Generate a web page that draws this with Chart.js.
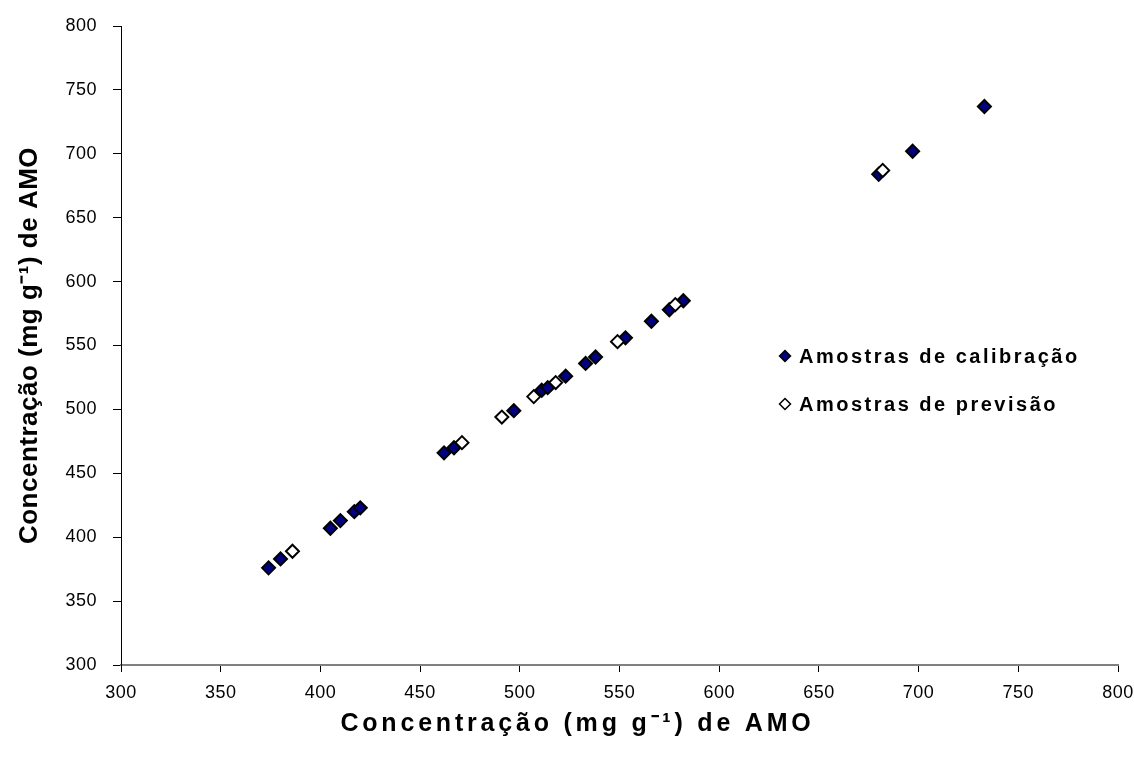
<!DOCTYPE html>
<html>
<head>
<meta charset="utf-8">
<script src="https://cdn.jsdelivr.net/npm/chart.js@4/dist/chart.umd.min.js"></script>
<style>
  html, body { margin: 0; padding: 0; background: #fff; }
  #wrap { width: 1134px; height: 767px; }
</style>
</head>
<body>
<div id="wrap"><canvas id="chart"></canvas></div>
<script>
// Calibration samples (reference vs predicted, mg g-1)
const calibX = [374, 380, 405, 410, 417, 420, 462, 467, 497, 511, 514, 523, 533, 538, 553, 566, 575, 582, 680, 697, 733];
const calibY = [376, 383, 407, 413, 420, 423, 466, 470, 499, 515, 517, 526, 536, 541, 556, 569, 578, 585, 684, 702, 737];
// Prediction samples
const predX = [386, 471, 491, 507, 518, 549, 578, 682];
const predY = [389, 474, 494, 510, 521, 553, 582, 687];

const seriesNames = ['Amostras de calibração', 'Amostras de previsão'];
const axisTitle = 'Concentração (mg g⁻¹) de AMO';
const axisMin = 300, axisMax = 800, axisStep = 50;

const FONT = '"Liberation Sans", Arial, sans-serif';

function toPoints(xs, ys) {
    return xs.map((x, i) => ({ x: x, y: ys[i] }));
}

// legend drawn inside the plot area, like the original
const insideLegend = {
    id: 'insideLegend',
    afterDraw(chart) {
        const ctx = chart.ctx;
        const area = chart.chartArea;
        const x0 = area.left + 664;
        const rows = [area.top + 330, area.top + 378];
        ctx.save();
        ctx.letterSpacing = '2.5px';
        ctx.font = 'bold 20px ' + FONT;
        ctx.textBaseline = 'middle';
        chart.data.datasets.slice().sort((a, b) => b.order - a.order).forEach((ds, i) => {
            ctx.fillStyle = ds.backgroundColor;
            ctx.strokeStyle = '#000';
            ctx.lineWidth = 1.5;
            Chart.helpers.drawPoint(ctx, { pointStyle: 'rectRot', radius: 5.5, borderWidth: 1.5 }, x0, rows[i]);
            ctx.fillStyle = '#000';
            ctx.fillText(ds.label, x0 + 14, rows[i] + 1);
        });
        ctx.restore();
    }
};

// wider spacing on the x title and tick text (Excel look)
const spacing = {
    id: 'spacing',
    beforeDraw(chart) {
        chart.ctx.letterSpacing = '0.5px';
        const sx = chart.scales.x;
        if (sx && !sx._spaced) {
            const orig = sx.drawTitle;
            sx.drawTitle = function () {
                this.ctx.save();
                this.ctx.letterSpacing = '3.8px';
                this.ctx.translate(-42, 0);   // title sits left of the plot centre in the original
                orig.call(this);
                this.ctx.restore();
            };
            sx._spaced = true;
        }
    }
};

const ctx = document.getElementById('chart').getContext('2d');
new Chart(ctx, {
    type: 'scatter',
    data: {
        datasets: [
            {
                label: seriesNames[0],
                data: toPoints(calibX, calibY),
                backgroundColor: '#000080',
                borderColor: '#000',
                borderWidth: 2,
                pointStyle: 'rectRot',
                pointRadius: 6.5,
                pointHoverRadius: 6.5,
                order: 2
            },
            {
                label: seriesNames[1],
                data: toPoints(predX, predY),
                backgroundColor: '#fff',
                borderColor: '#000',
                borderWidth: 2,
                pointStyle: 'rectRot',
                pointRadius: 6.5,
                pointHoverRadius: 6.5,
                order: 1
            }
        ]
    },
    options: {
        responsive: true,
        maintainAspectRatio: false,
        animation: false,
        layout: { padding: { top: 26, right: 16, left: 0, bottom: 0 } },
        plugins: {
            legend: { display: false },
            tooltip: { enabled: false }
        },
        scales: {
            x: {
                type: 'linear',
                min: axisMin, max: axisMax,
                ticks: { stepSize: axisStep, color: '#000', font: { family: FONT, size: 18 }, padding: 10 },
                grid: { display: true, drawOnChartArea: false, drawTicks: true, tickLength: 7, color: '#000' },
                border: { display: true, color: '#808080', width: 2 },
                title: {
                    display: true, text: axisTitle, color: '#000',
                    font: { family: FONT, size: 25, weight: 'bold' },
                    padding: { top: 0, bottom: 28 }
                },
                afterFit(scale) {
                    scale.height = 102;
                    scale.paddingLeft = 0;
                    scale.paddingRight = 0;
                }
            },
            y: {
                type: 'linear',
                min: axisMin, max: axisMax,
                ticks: { stepSize: axisStep, color: '#000', font: { family: FONT, size: 18 }, padding: 16 },
                grid: { display: true, drawOnChartArea: false, drawTicks: true, tickLength: 8, color: '#000' },
                border: { display: true, color: '#000', width: 1 },
                title: {
                    display: true, text: axisTitle, color: '#000',
                    font: { family: FONT, size: 26, weight: 'bold' },
                    padding: { top: 14, bottom: 0 }
                },
                afterFit(scale) {
                    scale.width = 121;
                    scale.paddingTop = 0;
                    scale.paddingBottom = 0;
                }
            }
        }
    },
    plugins: [spacing, insideLegend]
});
</script>
</body>
</html>
